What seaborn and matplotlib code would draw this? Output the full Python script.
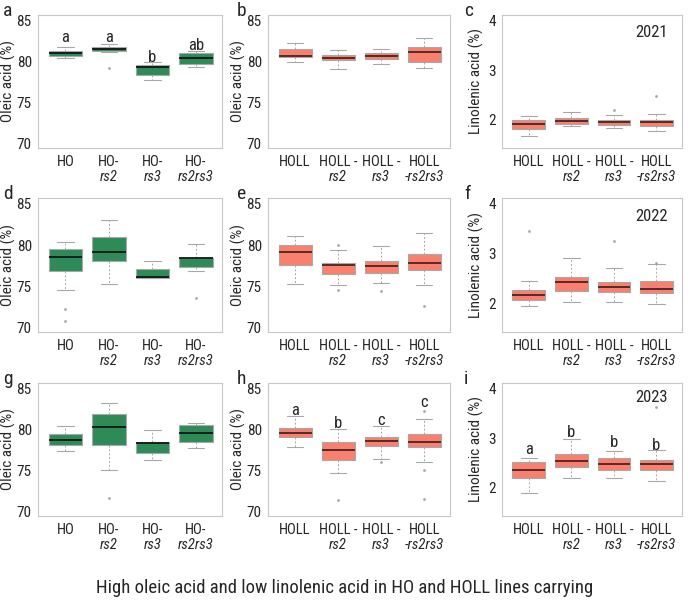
import numpy as np
import pandas as pd
import matplotlib
matplotlib.use('Agg')
import matplotlib.pyplot as plt
import seaborn as sns
from matplotlib import font_manager

sns.set_style("white")
names = {f.name for f in font_manager.fontManager.ttflist}
FONT = 'Liberation Sans'
for cand in ['Liberation Sans Narrow', 'Roboto Condensed', 'Arial Narrow']:
    if cand in names:
        FONT = cand
        break
plt.rcParams['font.family'] = [FONT, 'DejaVu Sans']

GREEN = '#2e8b58'
SALMON = '#f9806f'
GREY = '#a8a8a8'

ho_lines = ['HO', 'HO-rs2', 'HO-rs3', 'HO-rs2rs3']
holl_lines = ['HOLL', 'HOLL-rs2', 'HOLL-rs3', 'HOLL-rs2rs3']
# tick labels: upright first line, italic second line
ho_line1 = ['HO', 'HO-', 'HO-', 'HO-']
ho_line2 = ['', 'rs2', 'rs3', 'rs2rs3']
holl_line1 = ['HOLL', 'HOLL -', 'HOLL -', 'HOLL']
holl_line2 = ['', 'rs2', 'rs3', '-rs2rs3']

# five-number summaries per line: [lower whisker, Q1, median, Q3, upper whisker]
ho_2021 = [[80.4, 80.75, 81.0, 81.35, 81.8], [81.2, 81.3, 81.55, 81.85, 82.2],
           [77.75, 78.4, 79.3, 79.55, 79.9], [79.3, 79.7, 80.4, 81.1, 81.25]]
ho_2021_out = [[], [79.2], [], []]
holl_2021 = [[80.0, 80.6, 80.75, 81.5, 82.25], [79.1, 80.15, 80.5, 80.8, 81.4],
             [79.75, 80.35, 80.75, 81.0, 81.5], [79.2, 79.9, 81.2, 81.75, 82.85]]
holl_2021_out = [[], [], [], []]
lino_2021 = [[1.68, 1.82, 1.91, 2.0, 2.08], [1.87, 1.92, 1.97, 2.04, 2.15],
             [1.83, 1.89, 1.95, 1.99, 2.09], [1.78, 1.87, 1.96, 2.0, 2.11]]
lino_2021_out = [[], [], [2.2], [2.47]]

ho_2022 = [[74.5, 76.9, 78.55, 79.55, 80.4], [75.3, 78.0, 79.15, 81.0, 83.05],
           [75.95, 76.0, 76.1, 77.1, 78.1], [76.85, 77.3, 78.45, 78.45, 80.1]]
ho_2022_out = [[72.2, 70.8], [], [], [73.6]]
holl_2022 = [[75.25, 77.6, 79.2, 80.05, 81.05], [75.1, 76.5, 77.6, 77.85, 79.35],
             [75.45, 76.65, 77.5, 78.05, 79.85], [75.1, 76.95, 77.8, 78.95, 81.4]]
holl_2022_out = [[], [80.0, 74.5], [74.45], [72.55]]
lino_2022 = [[1.95, 2.07, 2.18, 2.27, 2.45], [2.03, 2.25, 2.43, 2.54, 2.91],
             [2.03, 2.23, 2.34, 2.43, 2.71], [1.99, 2.22, 2.30, 2.45, 2.79]]
lino_2022_out = [[3.45], [], [3.24], [2.82]]

ho_2023 = [[77.35, 78.15, 78.77, 79.47, 80.4], [75.1, 78.1, 80.3, 81.9, 83.3],
           [76.3, 77.2, 78.4, 78.55, 79.9], [77.8, 78.5, 79.65, 80.55, 80.85]]
ho_2023_out = [[], [71.65], [], []]
holl_2023 = [[77.85, 79.15, 79.65, 80.15, 81.65], [74.65, 76.35, 77.55, 78.5, 80.1],
             [76.45, 78.0, 78.65, 79.15, 80.5], [76.0, 77.85, 78.55, 79.45, 81.3]]
holl_2023_out = [[], [71.4], [76.0], [82.25, 75.05, 71.5]]
lino_2023 = [[1.89, 2.19, 2.36, 2.52, 2.59], [2.19, 2.41, 2.54, 2.68, 2.99],
             [2.2, 2.35, 2.48, 2.6, 2.74], [2.13, 2.36, 2.47, 2.55, 2.76]]
lino_2023_out = [[], [], [], [3.62]]

# significance letters
letters_a = ['a', 'a', 'b', 'ab']
letters_a_y = [82.9, 82.95, 80.5, 81.95]
letters_h = ['a', 'b', 'c', 'c']
letters_h_y = [82.4, 80.75, 81.15, 83.3]
letters_i = ['a', 'b', 'b', 'b']
letters_i_y = [2.78, 3.11, 2.91, 2.86]

W, H = 691, 601
fig = plt.figure(figsize=(W / 100, H / 100), dpi=100)


def px_axes(x0, x1, y0, y1):
    return fig.add_axes([x0 / W, 1 - y1 / H, (x1 - x0) / W, (y1 - y0) / H])


def to_long(lines, values):
    rows = []
    for name, vals in zip(lines, values):
        for v in vals:
            rows.append({'line': name, 'value': v})
    return pd.DataFrame(rows, columns=['line', 'value'])


def draw_panel(ax, lines, line1, line2, stats, outliers, color, median_color, oleic,
               letters=None, letters_y=None, year=None, year_y=0.86):
    df = to_long(lines, stats)
    sns.boxplot(data=df, x='line', y='value', order=lines, color=color,
                saturation=1, width=0.77, whis=(0, 100), showfliers=False,
                linecolor=GREY, linewidth=0.8,
                whiskerprops=dict(color=GREY, linestyle=(0, (2, 2)), linewidth=0.7),
                capprops=dict(color=GREY, linewidth=0.8),
                medianprops=dict(color=median_color, linewidth=1.3),
                ax=ax)
    odf = to_long(lines, outliers)
    if len(odf):
        sns.stripplot(data=odf, x='line', y='value', order=lines, jitter=False,
                      color=GREY, size=2, ax=ax)
    ax.set_xlim(-0.63, 3.6)
    if oleic:
        ax.set_ylim(69.45, 85.7)
        ax.set_yticks([70, 75, 80, 85])
        ax.set_ylabel('Oleic acid (%)', fontsize=11, labelpad=0)
    else:
        ax.set_ylim(1.43, 4.11)
        ax.set_yticks([1.5, 2, 2.5, 3, 3.5, 4])
        ax.set_yticklabels(['', '2', '', '3', '', '4'])
        ax.set_ylabel('Linolenic acid (%)', fontsize=11, labelpad=3)
    ax.set_xlabel('')
    ax.set_xticks(range(4))
    ax.set_xticklabels(line1)
    ax.tick_params(axis='x', length=3, color='#bbbbbb', labelsize=10.5, pad=2)
    ax.tick_params(axis='y', length=3, color='#bbbbbb', labelsize=11, pad=1.5)
    for i, t in enumerate(line2):
        if t:
            ax.text(i, -0.165, t, transform=ax.get_xaxis_transform(),
                    ha='center', va='top', fontsize=10.5, fontstyle='italic')
    for s in ax.spines.values():
        s.set_color('#c8c8c8')
        s.set_linewidth(0.8)
    if letters:
        for i, (t, y) in enumerate(zip(letters, letters_y)):
            ax.text(i, y, t, ha='center', va='center', fontsize=12)
    if year:
        ax.text(0.83, year_y, year, transform=ax.transAxes, ha='center',
                va='center', fontsize=12)


cols = [(38, 222), (268, 450), (502, 682)]
rows = [(15, 148), (198, 332), (383, 516)]
panel_letters = [['a', 'b', 'c'], ['d', 'e', 'f'], ['g', 'h', 'i']]
years = ['2021', '2022', '2023']
years_y = [0.865, 0.86, 0.89]
ho_sets = [(ho_2021, ho_2021_out), (ho_2022, ho_2022_out), (ho_2023, ho_2023_out)]
holl_sets = [(holl_2021, holl_2021_out), (holl_2022, holl_2022_out), (holl_2023, holl_2023_out)]
lino_sets = [(lino_2021, lino_2021_out), (lino_2022, lino_2022_out), (lino_2023, lino_2023_out)]
letter_x = [3, 237, 464]

for r, (y0, y1) in enumerate(rows):
    ax1 = px_axes(cols[0][0], cols[0][1], y0, y1)
    ax2 = px_axes(cols[1][0], cols[1][1], y0, y1)
    ax3 = px_axes(cols[2][0], cols[2][1], y0, y1)
    draw_panel(ax1, ho_lines, ho_line1, ho_line2, *ho_sets[r], GREEN, '#151515', True,
               *((letters_a, letters_a_y) if r == 0 else (None, None)))
    draw_panel(ax2, holl_lines, holl_line1, holl_line2, *holl_sets[r], SALMON, '#4a2420', True,
               *((letters_h, letters_h_y) if r == 2 else (None, None)))
    draw_panel(ax3, holl_lines, holl_line1, holl_line2, *lino_sets[r], SALMON, '#4a2420', False,
               *((letters_i, letters_i_y) if r == 2 else (None, None)),
               year=years[r], year_y=years_y[r])
    for c in range(3):
        fig.text(letter_x[c] / W, 1 - (y0 - 4) / H, panel_letters[r][c],
                 fontsize=14, ha='left', va='center')

fig.text(345 / W, 1 - 588 / H,
         'High oleic acid and low linolenic acid in HO and HOLL lines carrying',
         ha='center', va='center', fontsize=13.5)

fig.savefig('out.png', dpi=100)
